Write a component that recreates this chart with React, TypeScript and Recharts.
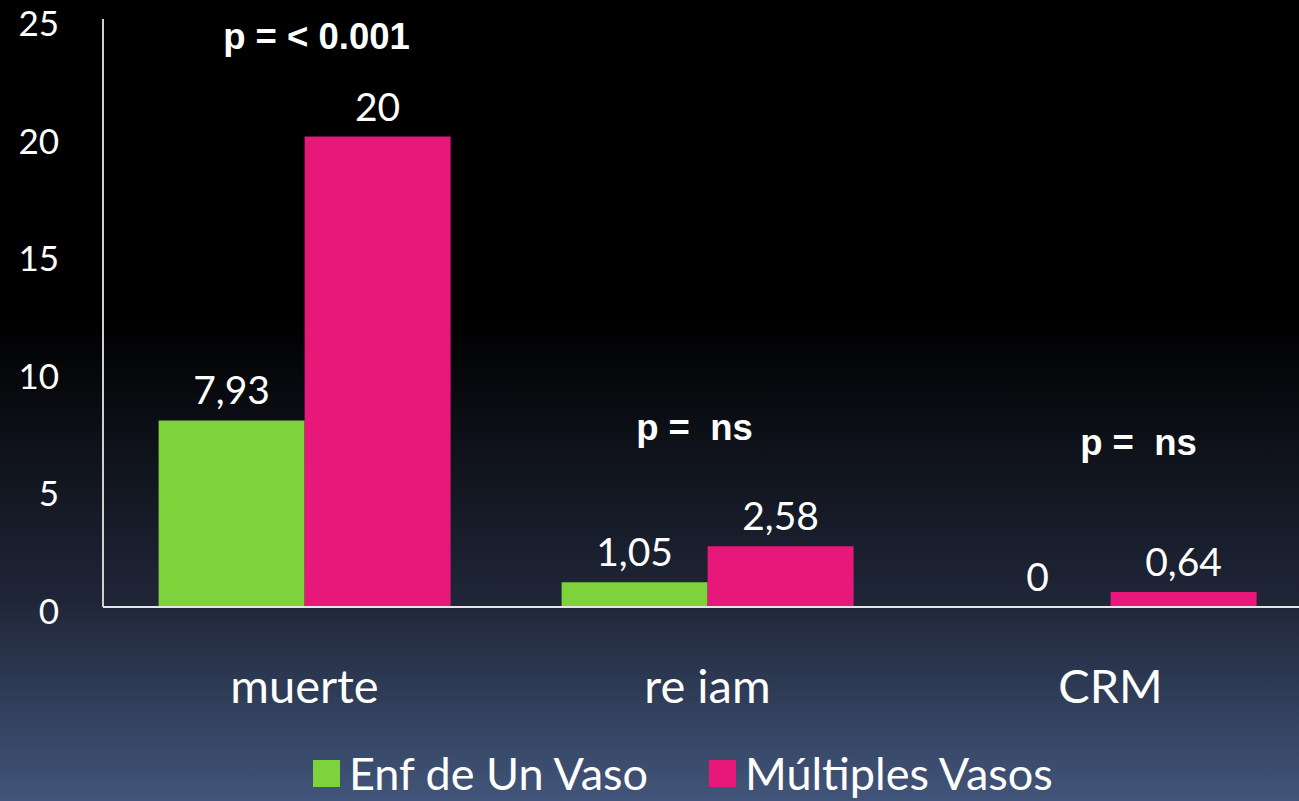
import React from 'react';
import { BarChart, Bar, XAxis, YAxis, ReferenceDot, Legend } from 'recharts';

const categories = ['muerte', 're iam', 'CRM'];
const unVaso = [7.93, 1.05, 0];
const multiples = [20, 2.58, 0.64];
const yTicks = [0, 5, 10, 15, 20, 25];
const seriesNames = ['Enf de Un Vaso', 'Múltiples Vasos'];
const colors = ['#7ed23c', '#e8177a'];
const annotations = [
  { cat: 'muerte', y: 24.26, text: 'p = < 0.001', dx: 12 },
  { cat: 're iam', y: 7.66, text: 'p =  ns', dx: -13 },
  { cat: 'CRM', y: 7.02, text: 'p =  ns', dx: 28 },
];

const data = categories.map((c, i) => ({ name: c, a: unVaso[i], b: multiples[i] }));

const fmt = (v: any) => String(v).replace('.', ',');

const FONT = 'Lato, "Open Sans", sans-serif';

const ValueLabel = (props: any) => {
  const { x, y, width, value } = props;
  return (
    <text x={x + width / 2} y={y - 16} textAnchor="middle" fill="#ffffff" fontSize={39} fontFamily={FONT}>
      {fmt(value)}
    </text>
  );
};

const YTick = (props: any) => {
  const { x, y, payload } = props;
  return (
    <text x={x - 2} y={y + 17} textAnchor="end" fill="#ffffff" fontSize={35} fontFamily={FONT}>
      {payload.value}
    </text>
  );
};

const XTick = (props: any) => {
  const { x, y, payload } = props;
  return (
    <text x={x} y={y + 88} textAnchor="middle" fill="#ffffff" fontSize={47} fontFamily={FONT}>
      {payload.value}
    </text>
  );
};

const LegendContent = () => (
  <div style={{ display: 'flex', justifyContent: 'flex-start', alignItems: 'center', paddingLeft: 313 }}>
    {seriesNames.map((n, i) => (
      <div key={n} style={{ display: 'flex', alignItems: 'center', marginRight: i === 0 ? 61 : 0 }}>
        <div style={{ width: 27, height: 27, background: colors[i], marginRight: 9 }} />
        <span style={{ color: '#ffffff', fontSize: 45, fontFamily: FONT, lineHeight: '52px' }}>{n}</span>
      </div>
    ))}
  </div>
);

export default function App() {
  return (
    <div
      style={{
        position: 'absolute',
        left: 0,
        top: 0,
        width: 1299,
        height: 801,
        overflow: 'hidden',
        background:
          'linear-gradient(to bottom, #000000 0%, #000000 40%, #10141d 58%, #1f2638 75%, #2f3d58 87%, #42557a 100%)',
      }}
    >
      <BarChart
        width={1320}
        height={801}
        data={data}
        margin={{ top: 19, right: 8, bottom: 0, left: 0 }}
        barCategoryGap="13.8%"
        barGap={0}
      >
        <XAxis
          dataKey="name"
          tick={<XTick />}
          tickLine={false}
          axisLine={{ stroke: '#e6e6e6', strokeWidth: 2 }}
          height={130}
          interval={0}
        />
        <YAxis
          domain={[0, 25]}
          ticks={yTicks}
          tick={<YTick />}
          tickLine={false}
          axisLine={{ stroke: '#cfcfcf', strokeWidth: 2 }}
          width={103}
          tickMargin={36}
          interval={0}
        />
        <Legend
          verticalAlign="bottom"
          height={64}
          content={<LegendContent />}
          wrapperStyle={{ bottom: -10, left: 0, width: 1299 }}
        />
        <Bar
          dataKey="a"
          name={seriesNames[0]}
          fill={colors[0]}
          isAnimationActive={false}
          minPointSize={0.01}
          label={<ValueLabel />}
        />
        <Bar dataKey="b" name={seriesNames[1]} fill={colors[1]} isAnimationActive={false} label={<ValueLabel />} />
        {annotations.map((a) => (
          <ReferenceDot
            key={a.cat}
            x={a.cat}
            y={a.y}
            r={0}
            fill="none"
            stroke="none"
            ifOverflow="visible"
            label={(p: any) => {
              const vb = p.viewBox || {};
              const cx = (vb.x ?? 0) + (vb.width ?? 0) / 2;
              const cy = (vb.y ?? 0) + (vb.height ?? 0) / 2;
              return (
                <text
                  x={cx + a.dx}
                  y={cy + 13}
                  textAnchor="middle"
                  fill="#ffffff"
                  fontSize={36.5}
                  fontWeight="bold"
                  fontFamily='"Liberation Sans", Arial, sans-serif'
                  style={{ whiteSpace: 'pre' }}
                >
                  {a.text}
                </text>
              );
            }}
          />
        ))}
      </BarChart>
    </div>
  );
}
